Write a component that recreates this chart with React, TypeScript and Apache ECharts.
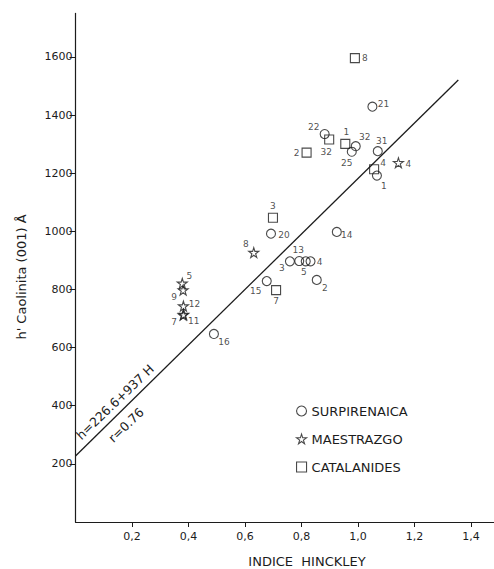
import React, { useEffect, useRef } from "react";
import * as echarts from "echarts";

// ---- axis ticks ----
const xTicks = [0.2, 0.4, 0.6, 0.8, 1.0, 1.2, 1.4];
const yTicks = [200, 400, 600, 800, 1000, 1200, 1400, 1600];

// ---- Surpirenaica (circles) ----
const surpIds = ["21", "22", "32", "25", "31", "1", "20", "14", "3", "13", "5", "4", "2", "15", "16"];
const surpH = [1.051, 0.882, 0.992, 0.978, 1.07, 1.067, 0.692, 0.925, 0.759, 0.792, 0.815, 0.832, 0.854, 0.677, 0.49];
const surpK = [1429, 1335, 1293, 1274, 1276, 1192, 992, 998, 897, 898, 897, 897, 833, 829, 647];

// ---- Maestrazgo (stars) ----
const maesIds = ["4", "8", "5", "9", "12", "7", "11"];
const maesH = [1.143, 0.631, 0.378, 0.381, 0.382, 0.381, 0.383];
const maesK = [1236, 927, 821, 798, 743, 712, 714];

// ---- Catalanides (squares) ----
const catIds = ["8", "32", "1", "2", "4", "3", "7"];
const catH = [0.989, 0.898, 0.955, 0.818, 1.057, 0.699, 0.71];
const catK = [1596, 1316, 1301, 1271, 1214, 1047, 798];

// ---- regression line (as drawn) ----
const lineH = [0, 1.355];
const lineK = [227, 1521];

// label placement (pixel offsets of each point's number label)
const surpLabelOffsets = [
  [11, -3], [-11, -7], [9, -9], [-5, 11], [4, -10], [7, 10], [13, 1], [10, 3],
  [-8, 7], [-1, -11], [-2, 11], [9, 1], [8, 8], [-11, 10], [10, 8],
];
const maesLabelOffsets = [[10, 1], [-8, -9], [7, -7], [-9, 7], [11, -2], [-9, 7], [10, 7]];
const catLabelOffsets = [[10, 0], [-3, 12], [1, -12], [-10, 0], [9, -6], [0, -12], [0, 11]];

const INK = "#1c1c1c";
const FONT = "DejaVu Sans";
const STAR = "path://M50,2 L61,37 L98,37 L68,59 L79,95 L50,73 L21,95 L32,59 L2,37 L39,37 Z";

function makeData(ids: string[], xs: number[], ys: number[], offs: number[][]) {
  return ids.map((id, i) => ({
    value: [xs[i], ys[i]],
    name: id,
    label: { offset: offs[i] },
  }));
}

const markerStyle = { color: "rgba(0,0,0,0)", borderColor: INK, borderWidth: 1.1 };
const pointLabel = {
  show: true,
  position: "inside",
  formatter: (p: any) => p.name,
  fontSize: 9,
  fontFamily: FONT,
  color: INK,
};

export default function App() {
  const ref = useRef<HTMLDivElement>(null);
  useEffect(() => {
    document.body.style.margin = "0";
    if (!ref.current) return;
    const chart = echarts.init(ref.current, undefined, { renderer: "svg" });
    const fmtX = (v: number) => v.toFixed(1).replace(".", ",");
    chart.setOption({
      animation: false,
      backgroundColor: "#ffffff",
      grid: { left: 75.5, top: 13.4, width: 418.1, height: 508.6, containLabel: false, outerBoundsMode: "none" },
      xAxis: {
        type: "value",
        min: 0,
        max: 1.48,
        interval: 0.2,
        splitLine: { show: false },
        axisLine: { lineStyle: { color: INK, width: 1.2 } },
        axisTick: { show: true, length: 5, lineStyle: { color: INK, width: 1 }, customValues: xTicks },
        axisLabel: {
          customValues: xTicks,
          formatter: fmtX,
          fontSize: 11,
          fontFamily: FONT,
          color: INK,
          margin: 9,
        },
      },
      yAxis: {
        type: "value",
        min: 0,
        max: 1750,
        interval: 200,
        splitLine: { show: false },
        axisLine: { lineStyle: { color: INK, width: 1.2 } },
        axisTick: { show: true, length: 6, lineStyle: { color: INK, width: 1 }, customValues: yTicks },
        axisLabel: {
          customValues: yTicks,
          formatter: (v: number) => String(Math.round(v)),
          fontSize: 11,
          fontFamily: FONT,
          color: INK,
          margin: 3,
        },
      },
      legend: {
        orient: "vertical",
        left: 291,
        top: 399,
        itemWidth: 10,
        itemHeight: 10,
        itemGap: 14,
        itemTextGap: 9,
        textStyle: { fontSize: 13, lineHeight: 14, fontFamily: FONT, color: INK },
        data: [
          { name: "SURPIRENAICA", icon: "circle", itemStyle: markerStyle },
          { name: "MAESTRAZGO", icon: STAR, itemStyle: markerStyle },
          { name: "CATALANIDES", icon: "rect", itemStyle: markerStyle },
        ],
      },
      series: [
        {
          type: "line",
          name: "regresion",
          data: lineH.map((h, i) => [h, lineK[i]]),
          symbol: "none",
          lineStyle: { color: INK, width: 1.3 },
          silent: true,
          z: 1,
        },
        {
          type: "scatter",
          name: "SURPIRENAICA",
          symbol: "circle",
          symbolSize: 9,
          itemStyle: markerStyle,
          label: pointLabel,
          data: makeData(surpIds, surpH, surpK, surpLabelOffsets),
          z: 3,
        },
        {
          type: "scatter",
          name: "MAESTRAZGO",
          symbol: STAR,
          symbolSize: 10,
          itemStyle: markerStyle,
          label: pointLabel,
          data: makeData(maesIds, maesH, maesK, maesLabelOffsets),
          z: 3,
        },
        {
          type: "scatter",
          name: "CATALANIDES",
          symbol: "rect",
          symbolSize: 9,
          itemStyle: markerStyle,
          label: pointLabel,
          data: makeData(catIds, catH, catK, catLabelOffsets),
          z: 3,
        },
      ],
      graphic: [
        {
          type: "text",
          x: 307,
          y: 561,
          style: {
            text: "INDICE  HINCKLEY",
            fontSize: 13,
            fontFamily: FONT,
            fill: INK,
            textAlign: "center",
            textVerticalAlign: "middle",
          },
        },
        {
          type: "text",
          x: 21,
          y: 277,
          rotation: Math.PI / 2,
          style: {
            text: "h' Caolinita (001) Å",
            fontSize: 13,
            fontFamily: FONT,
            fill: INK,
            textAlign: "center",
            textVerticalAlign: "middle",
          },
        },
        {
          type: "text",
          x: 115,
          y: 402,
          rotation: 0.765,
          style: {
            text: "h=226.6+937 H",
            fontSize: 12.5,
            fontFamily: FONT,
            fill: INK,
            textAlign: "center",
            textVerticalAlign: "middle",
          },
        },
        {
          type: "text",
          x: 126,
          y: 425,
          rotation: 0.765,
          style: {
            text: "r=0.76",
            fontSize: 12.5,
            fontFamily: FONT,
            fill: INK,
            textAlign: "center",
            textVerticalAlign: "middle",
          },
        },
      ],
    });
    return () => chart.dispose();
  }, []);
  return <div ref={ref} style={{ width: 494, height: 569 }} />;
}
